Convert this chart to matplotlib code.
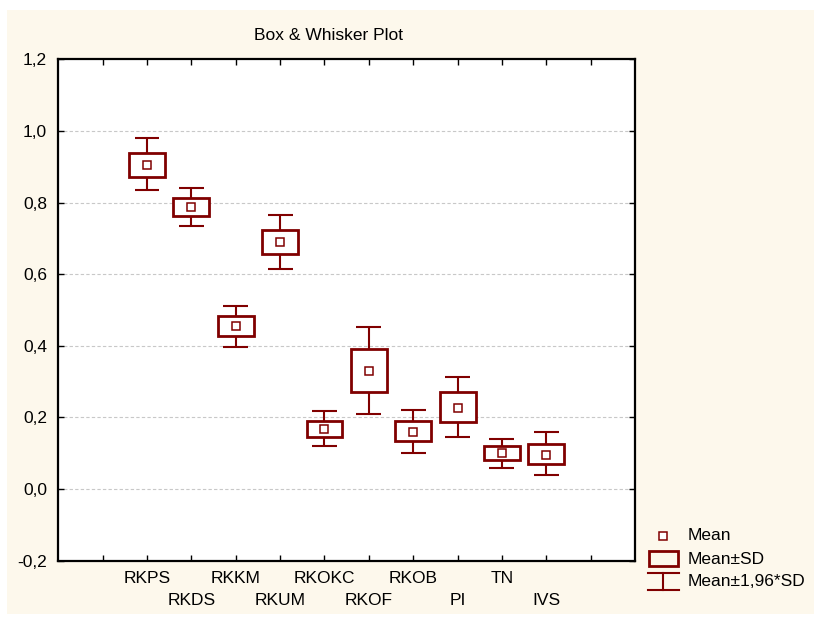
import matplotlib
matplotlib.use("Agg")
import matplotlib.pyplot as plt
from matplotlib.patches import Rectangle
from matplotlib.transforms import blended_transform_factory
import numpy as np

plt.rcParams['font.family'] = ['Liberation Sans', 'DejaVu Sans']

categories = ["RKPS", "RKDS", "RKKM", "RKUM", "RKOKC", "RKOF", "RKOB", "PI", "TN", "IVS"]
means      = [0.905, 0.787, 0.456, 0.689, 0.168, 0.330, 0.159, 0.227, 0.100, 0.096]
box_low    = [0.872, 0.763, 0.428, 0.655, 0.146, 0.272, 0.133, 0.188, 0.082, 0.069]
box_high   = [0.939, 0.812, 0.483, 0.724, 0.191, 0.390, 0.189, 0.270, 0.120, 0.126]
whisk_low  = [0.834, 0.734, 0.397, 0.615, 0.120, 0.209, 0.101, 0.144, 0.060, 0.038]
whisk_high = [0.980, 0.840, 0.512, 0.766, 0.218, 0.453, 0.220, 0.313, 0.141, 0.158]
y_ticks = [-0.2, 0.0, 0.2, 0.4, 0.6, 0.8, 1.0, 1.2]
y_labels = ["-0,2", "0,0", "0,2", "0,4", "0,6", "0,8", "1,0", "1,2"]

W, H = 818, 619
DARK = "#800000"
CREAM = "#FDF8EC"
FS = 12.5

fig = plt.figure(figsize=(W / 100, H / 100), dpi=100, facecolor="white")
fig.patches.append(Rectangle((7 / W, 1 - 614 / H), (814 - 7) / W, (614 - 10) / H,
                             transform=fig.transFigure, facecolor=CREAM, edgecolor="none", zorder=-10))

L, R, T, B = 58.3, 635, 59.3, 560.7
ax = fig.add_axes([L / W, 1 - B / H, (R - L) / W, (B - T) / H])
ax.set_facecolor("white")

x = np.arange(1, len(categories) + 1)
bw = 0.81
cw = 0.56
for xi, m, bl, bh, wl, wh in zip(x, means, box_low, box_high, whisk_low, whisk_high):
    ax.add_patch(Rectangle((xi - bw / 2, bl), bw, bh - bl, facecolor="white",
                           edgecolor=DARK, lw=2.0, zorder=3))
ax.vlines(x, box_high, whisk_high, color=DARK, lw=1.5, zorder=3)
ax.vlines(x, whisk_low, box_low, color=DARK, lw=1.5, zorder=3)
ax.hlines(whisk_high, x - cw / 2, x + cw / 2, color=DARK, lw=1.5, zorder=3)
ax.hlines(whisk_low, x - cw / 2, x + cw / 2, color=DARK, lw=1.5, zorder=3)
ax.plot(x, means, linestyle="none", marker="s", markersize=5.5, markerfacecolor="white",
        markeredgecolor=DARK, markeredgewidth=1.1, zorder=4)

ax.set_xlim(-1, 12)
ax.set_ylim(-0.2, 1.2)
ax.set_yticks(y_ticks)
ax.set_yticklabels(y_labels, fontsize=FS)
ax.set_xticks(np.arange(0, 12))
ax.set_xticklabels([])
ax.tick_params(axis="both", direction="in", length=4, width=1.0, top=True, right=True,
               colors="black")
ax.tick_params(axis="y", pad=8)
for s in ax.spines.values():
    s.set_linewidth(1.6)
    s.set_color("black")
for yv in y_ticks[1:-1]:
    ax.axhline(yv, color="#c8c8c8", lw=0.8, ls=(0, (3, 2)), zorder=1)

trans = blended_transform_factory(ax.transData, ax.transAxes)
for i, (xi, lab) in enumerate(zip(x, categories)):
    yoff = -17.3 / (B - T) if i % 2 == 0 else -40.0 / (B - T)
    ax.text(xi, yoff, lab, transform=trans, ha="center", va="center", fontsize=FS)

fig.text(328 / W, 1 - 35 / H, "Box & Whisker Plot", ha="center", va="center", fontsize=FS)

# legend
lg = fig.add_axes([0, 0, 1, 1], facecolor="none")
lg.set_xlim(0, W)
lg.set_ylim(H, 0)
lg.axis("off")
lg.plot([663], [535.7], linestyle="none", marker="s", markersize=5.5, markerfacecolor="white",
        markeredgecolor=DARK, markeredgewidth=1.1)
lg.add_patch(Rectangle((649, 550.5), 29, 15, facecolor="none", edgecolor=DARK, lw=2.0))
lg.plot([648, 679], [572.7, 572.7], color=DARK, lw=1.5)
lg.plot([648, 679], [590, 590], color=DARK, lw=1.5)
lg.plot([663, 663], [572.7, 590], color=DARK, lw=1.5)
for ty, t in zip([535.7, 559, 581.7], ["Mean", "Mean±SD", "Mean±1,96*SD"]):
    lg.text(687.5, ty, t, ha="left", va="center", fontsize=FS)

fig.savefig("out.png", dpi=100, facecolor=fig.get_facecolor())
